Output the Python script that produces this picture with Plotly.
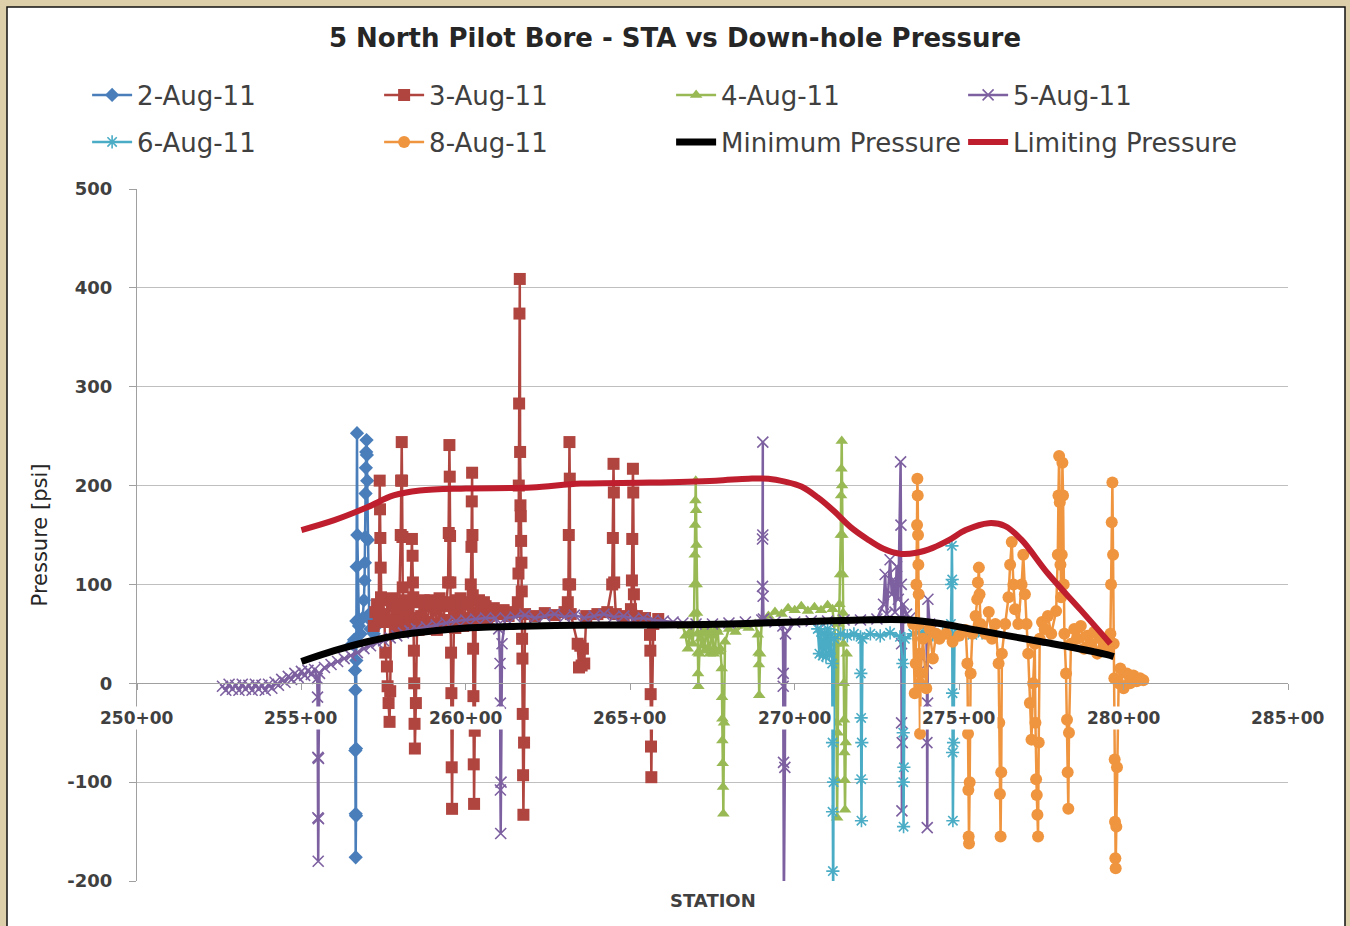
import plotly.graph_objects as go

# ---------------- axis ticks ----------------
x_tick_vals = [250, 255, 260, 265, 270, 275, 280, 285]
x_tick_text = ["250+00", "255+00", "260+00", "265+00", "270+00", "275+00", "280+00", "285+00"]
y_tick_vals = [-200, -100, 0, 100, 200, 300, 400, 500]
y_tick_text = ["-200", "-100", "0", "100", "200", "300", "400", "500"]

# ---------------- series: (station, pressure psi) ----------------
aug2 = [(256.55, 40), (256.60, 44), (256.63, 13), (256.64, -7), (256.64, -68), (256.65, -132),
        (256.65, -176), (256.66, -134), (256.66, -66), (256.67, 23), (256.67, 63), (256.68, 118),
        (256.69, 253), (256.70, 150), (256.75, 58), (256.80, 50), (256.86, 66), (256.90, 84),
        (256.92, 104), (256.93, 122), (256.94, 148), (256.95, 192), (256.96, 218), (256.97, 234),
        (256.98, 246), (256.99, 231), (257.00, 205), (257.02, 145), (257.06, 70), (257.10, 55),
        (257.15, 62), (257.20, 50), (257.25, 57)]

aug3 = [(257.20, 58), (257.25, 72), (257.30, 80), (257.35, 66), (257.38, 205), (257.39, 176),
        (257.40, 147), (257.41, 117), (257.42, 87), (257.44, 62), (257.48, 84), (257.52, 70),
        (257.55, 31), (257.60, 17), (257.62, -3), (257.65, -20), (257.68, -39), (257.70, -8),
        (257.72, 62), (257.75, 78), (257.78, 86), (257.81, 64), (257.84, 55), (257.87, 80),
        (257.90, 76), (257.93, 52), (257.96, 60), (258.02, 150),
        (258.03, 205), (258.05, 244), (258.06, 205), (258.07, 148), (258.08, 97), (258.12, 72),
        (258.15, 84), (258.18, 58), (258.21, 74), (258.24, 80), (258.27, 55), (258.30, 64),
        (258.36, 146), (258.38, 129), (258.39, 102),
        (258.40, 87), (258.41, 60), (258.42, 33), (258.43, 0), (258.44, -41), (258.45, -66),
        (258.48, -20), (258.52, 66), (258.56, 54), (258.60, 82), (258.64, 68), (258.68, 57),
        (258.72, 84), (258.76, 78), (258.80, 55), (258.84, 62), (258.88, 80),
        (258.92, 84), (258.96, 60), (259.00, 58), (259.04, 82), (259.08, 75), (259.12, 54),
        (259.16, 60), (259.20, 86), (259.24, 82), (259.28, 58), (259.32, 64), (259.36, 80),
        (259.40, 78), (259.46, 102), (259.48, 152), (259.50, 241), (259.51, 209), (259.52, 149),
        (259.53, 102), (259.54, 82), (259.55, 31), (259.56, -10), (259.57, -85), (259.58, -127),
        (259.60, -40), (259.64, 70), (259.68, 56), (259.72, 84), (259.76, 70), (259.80, 62),
        (259.84, 86), (259.88, 80), (259.92, 58), (259.96, 64), (260.00, 80),
        (260.04, 82), (260.10, 66), (260.15, 100), (260.17, 138), (260.18, 184), (260.19, 213),
        (260.20, 150), (260.21, 89), (260.22, 35), (260.23, -13), (260.24, -82), (260.25, -122),
        (260.27, -48), (260.30, 72), (260.35, 60), (260.40, 84), (260.45, 74), (260.50, 66),
        (260.55, 82), (260.60, 78), (260.65, 62), (260.70, 68),
        (260.85, 76), (261.00, 70), (261.15, 74), (261.30, 68), (261.45, 72), (261.58, 82),
        (261.60, 111), (261.61, 200), (261.62, 283), (261.63, 374), (261.64, 409), (261.65, 234),
        (261.66, 180), (261.67, 169), (261.68, 144), (261.69, 122), (261.70, 93), (261.71, 45),
        (261.72, 25), (261.73, -31), (261.74, -93), (261.75, -133), (261.77, -60), (261.80, 70),
        (262.10, 68), (262.40, 71), (262.70, 69), (263.00, 72), (263.10, 82), (263.12, 100),
        (263.13, 150), (263.15, 244), (263.16, 207), (263.17, 100), (263.19, 70), (263.40, 40),
        (263.44, 16), (263.48, 38), (263.52, 18), (263.56, 35), (263.60, 20), (263.66, 68),
        (264.00, 70), (264.30, 72), (264.45, 100), (264.47, 147), (264.49, 222), (264.50, 193),
        (264.51, 102), (264.56, 70), (264.80, 68), (265.02, 75), (265.05, 104), (265.06, 146),
        (265.08, 217), (265.09, 193), (265.11, 90), (265.20, 68), (265.45, 66), (265.60, 49),
        (265.61, 33), (265.62, -11), (265.63, -64), (265.64, -95), (265.66, -30), (265.70, 60),
        (265.85, 65)]

aug4 = [(266.60, 58), (266.68, 48), (266.75, 35), (266.82, 52), (266.90, 40), (266.94, 70),
        (266.95, 100), (266.96, 130), (266.97, 160), (266.98, 185), (266.99, 205), (267.00, 175),
        (267.01, 140), (267.02, 100), (267.03, 71), (267.04, 50), (267.05, 31), (267.06, 10),
        (267.07, -3), (267.10, 30), (267.14, 45), (267.18, 52), (267.22, 38), (267.26, 33),
        (267.30, 55), (267.34, 50), (267.38, 36), (267.42, 30), (267.46, 52),
        (267.50, 48), (267.54, 30), (267.58, 34), (267.62, 55), (267.66, 52), (267.70, 32),
        (267.74, 35), (267.78, 15), (267.79, -14),
        (267.80, -36), (267.80, -58), (267.81, -81), (267.82, -105), (267.83, -132), (267.85, -40),
        (267.88, 42), (268.00, 55), (268.20, 52), (268.40, 58), (268.60, 56), (268.80, 60),
        (268.88, 49), (268.90, 31), (268.91, 19), (268.92, -12), (268.95, 30), (269.00, 64),
        (269.20, 68), (269.40, 72), (269.60, 70), (269.80, 76), (270.00, 74), (270.20, 78),
        (270.40, 73), (270.60, 77), (270.80, 74), (271.00, 79), (271.15, 75), (271.25, 40),
        (271.27, -40), (271.28, -98), (271.29, -136), (271.31, -50), (271.33, 60), (271.36, 80),
        (271.38, 110), (271.40, 150), (271.41, 190), (271.42, 217), (271.43, 245), (271.44, 200),
        (271.45, 150), (271.46, 110), (271.47, 71), (271.48, 40), (271.49, 0), (271.50, -37),
        (271.51, -70), (271.52, -98), (271.53, -128), (271.55, -60), (271.58, 30)]

aug5 = [(252.60, -3), (252.70, -7), (252.80, -1), (252.90, -6), (253.00, -2), (253.10, -7),
        (253.20, -1), (253.30, -6), (253.40, -2), (253.50, -7), (253.60, -1), (253.70, -6),
        (253.80, -2), (253.90, -7), (254.00, -1), (254.10, -5), (254.20, 1), (254.30, -2),
        (254.40, 4), (254.50, 1), (254.60, 7), (254.70, 4), (254.80, 10), (254.90, 6),
        (255.00, 12), (255.10, 8), (255.20, 13), (255.30, 9), (255.40, 14), (255.48, 5),
        (255.49, -14), (255.50, -75),
        (255.50, -136), (255.51, -180), (255.52, -137), (255.52, -76), (255.55, 10), (255.70, 16),
        (255.90, 19), (256.10, 22), (256.30, 25), (256.50, 28), (256.70, 31), (256.90, 35),
        (257.10, 38), (257.30, 41), (257.50, 43), (257.70, 46), (257.90, 48), (258.10, 51),
        (258.30, 53), (258.50, 55), (258.80, 57), (259.10, 59), (259.40, 61), (259.70, 63),
        (260.00, 64), (260.30, 65), (260.60, 66), (260.90, 66), (261.00, 55), (261.04, 20),
        (261.05, -20), (261.05, -108), (261.06, -152), (261.07, -100), (261.10, 40), (261.20, 66),
        (261.50, 67), (261.80, 69), (262.10, 66), (262.40, 68), (262.70, 70), (263.00, 67),
        (263.30, 69), (263.60, 66), (263.90, 68), (264.20, 70), (264.50, 67), (264.80, 68),
        (265.10, 65), (265.40, 66), (265.70, 64), (266.00, 63), (266.30, 62), (266.60, 61),
        (267.00, 60), (267.50, 60), (268.00, 61), (268.50, 62), (269.00, 64), (269.02, 98),
        (269.02, 146), (269.03, 244), (269.03, 150), (269.04, 88), (269.05, 65), (269.40, 62),
        (269.64, 58), (269.65, 10), (269.65, -3), (269.66, -80), (269.67, -230), (269.70, -85),
        (269.72, 50), (270.00, 62), (270.50, 63), (271.00, 63), (271.50, 64), (272.00, 64),
        (272.50, 65), (272.70, 80), (272.75, 110), (272.80, 70), (272.90, 125), (272.95, 90),
        (273.00, 105), (273.05, 72), (273.10, 118), (273.15, 85), (273.22, 224), (273.23, 160),
        (273.24, 100), (273.25, 40), (273.25, -40), (273.26, -129), (273.27, -60), (273.30, 80),
        (273.40, 70), (273.50, 66), (274.00, 55), (274.02, 20), (274.02, -60), (274.03, -146),
        (274.04, -20), (274.05, 85), (274.10, 60), (274.20, 55)]

aug6 = [(270.70, 55), (270.75, 30), (270.80, 52), (270.85, 28), (270.90, 50), (270.95, 27),
        (271.00, 55), (271.05, 30), (271.10, 50), (271.14, 20), (271.15, -60), (271.15, -130),
        (271.16, -190), (271.17, -230), (271.18, -100), (271.20, 45), (271.40, 50), (271.60, 48),
        (271.80, 50), (272.00, 47), (272.01, 10), (272.02, -35), (272.02, -97), (272.03, -139),
        (272.04, -60), (272.06, 45), (272.30, 50), (272.60, 48), (272.90, 51), (273.20, 47),
        (273.29, 20), (273.30, -50), (273.30, -100), (273.31, -145), (273.32, -85), (273.35, 45),
        (273.60, 50), (273.90, 52), (274.20, 49), (274.50, 50), (274.75, 60), (274.77, 100),
        (274.78, 139), (274.79, 105), (274.79, 50), (274.80, -10), (274.80, -70), (274.81, -139),
        (274.83, -60), (274.86, 48), (275.10, 50), (275.40, 49), (275.70, 51), (276.00, 50)]

aug8 = [(273.60, 60), (273.65, -10), (273.68, 20), (273.70, 100), (273.72, 160), (273.73, 207),
        (273.74, 190), (273.75, 150), (273.76, 120), (273.77, 90), (273.78, 60), (273.79, 30),
        (273.80, 0), (273.81, -51), (273.83, 10), (273.90, 45), (274.00, -5), (274.10, 55),
        (274.20, 25), (274.30, 50), (274.40, 45), (274.60, 50), (274.80, 42), (275.00, 48),
        (275.20, 54), (275.25, 20), (275.27, -51), (275.28, -108), (275.29, -155), (275.30, -162),
        (275.32, -100), (275.35, 10), (275.40, 50), (275.50, 68), (275.55, 85), (275.57, 102),
        (275.60, 117), (275.62, 90), (275.65, 60), (275.80, 50), (275.90, 72), (276.00, 45),
        (276.10, 60), (276.20, 20), (276.22, -40), (276.24, -112), (276.26, -155), (276.28, -90),
        (276.30, 30), (276.40, 60), (276.50, 87), (276.55, 120), (276.60, 143), (276.65, 100),
        (276.70, 75), (276.80, 60), (276.90, 100), (276.95, 130), (277.00, 90), (277.05, 60),
        (277.10, 30), (277.15, -20), (277.20, -57), (277.25, 0), (277.30, 40), (277.32, -40),
        (277.34, -97), (277.36, -113), (277.38, -133), (277.40, -155), (277.42, -60), (277.45, 45),
        (277.52, 62), (277.60, 55), (277.70, 68), (277.80, 50), (277.95, 73), (278.00, 130),
        (278.02, 190), (278.04, 230),
        (278.06, 183), (278.08, 120), (278.10, 87), (278.12, 130), (278.14, 223), (278.16, 190),
        (278.18, 100), (278.20, 50), (278.25, 10), (278.28, -37), (278.30, -90), (278.32, -127),
        (278.34, -50), (278.40, 40), (278.50, 55), (278.60, 45), (278.70, 58), (278.80, 35),
        (278.90, 48), (279.00, 40), (279.10, 52), (279.20, 30), (279.30, 45),
        (279.40, 38), (279.55, 33), (279.60, 50), (279.62, 100), (279.64, 163), (279.66, 203),
        (279.68, 130), (279.70, 40), (279.72, 5), (279.73, -77), (279.74, -140), (279.75, -177),
        (279.76, -187), (279.78, -145), (279.80, -85), (279.85, 0), (279.90, 15), (280.00, -5),
        (280.10, 10), (280.20, 0), (280.30, 8), (280.40, 2), (280.50, 5), (280.60, 3)]

min_sta = [255.0, 256.0, 257.0, 258.0, 259.0, 260.0, 262.0, 264.0, 266.0, 268.0, 270.0,
           272.0, 273.5, 274.5, 275.5, 276.5, 277.5, 278.5, 279.5, 279.7]
min_psi = [22, 33, 42, 49, 53, 56, 58, 59, 59, 60, 62, 64, 64, 60, 54, 48, 42, 36, 29, 27]

lim_sta = [255.0, 256.0, 257.0, 257.8, 258.6, 260.0, 262.0, 263.5, 265.6, 267.6, 268.6, 269.2,
           269.7, 270.2, 270.7, 271.2, 271.7, 272.2, 272.7, 273.2, 273.7, 274.2, 274.7, 275.2,
           275.9, 276.4, 276.9, 277.7, 278.7, 279.6]
lim_psi = [155, 165, 178, 190, 195, 197, 198, 202, 203, 205, 207, 207, 204, 199, 188, 174, 158,
           146, 136, 131, 132, 137, 145, 155, 162, 159, 145, 111, 74, 40]

series = [
    ("2-Aug-11", aug2, "#4A7EBB", "diamond", 11, "legend"),
    ("3-Aug-11", aug3, "#B04540", "square", 12, "legend"),
    ("4-Aug-11", aug4, "#98B954", "triangle-up", 11, "legend"),
    ("5-Aug-11", aug5, "#7D60A0", "x-thin-open", 11, "legend"),
    ("6-Aug-11", aug6, "#4AACC5", "asterisk-open", 11, "legend2"),
    ("8-Aug-11", aug8, "#F0953F", "circle", 12, "legend2"),
]

fig = go.Figure()
for name, pts, col, sym, size, lg in series:
    xs = [p[0] for p in pts]
    ys = [p[1] for p in pts]
    thin = sym.endswith("-open")
    fig.add_trace(go.Scatter(
        x=xs, y=ys, name=name, mode="lines+markers", legend=lg,
        line=dict(color=col, width=2.5),
        marker=dict(symbol=sym, size=size, color=col,
                    line=dict(color=col, width=1.6 if thin else 0)),
    ))

fig.add_trace(go.Scatter(x=min_sta, y=min_psi, name="Minimum Pressure", mode="lines",
                         legend="legend2", line=dict(color="#000000", width=7, shape="spline")))
fig.add_trace(go.Scatter(x=lim_sta, y=lim_psi, name="Limiting Pressure", mode="lines",
                         legend="legend2", line=dict(color="#BE1E2D", width=6, shape="spline")))

tick_font = dict(family="DejaVu Sans", size=17, color="#404040", weight="bold")
ytick_font = dict(family="DejaVu Sans", size=18, color="#404040", weight="bold")
legend_font = dict(family="DejaVu Sans", size=26, color="#404040")

annotations = []
for v, t in zip(x_tick_vals, x_tick_text):
    annotations.append(dict(x=v, y=0, xref="x", yref="y", text=t, showarrow=False,
                            yshift=-35, bgcolor="white", borderpad=1, font=tick_font))
annotations.append(dict(x=0.5, y=-0.0275, xref="paper", yref="paper", text="STATION",
                        showarrow=False, yanchor="middle",
                        font=dict(family="DejaVu Sans", size=18, color="#404040", weight="bold")))

leg_x = -0.039 - 5 / 1151

fig.update_layout(
    width=1350, height=926,
    margin=dict(l=137, r=62, t=189, b=45),
    paper_bgcolor="#DCCFA9",
    plot_bgcolor="white",
    title=dict(text="5 North Pilot Bore - STA vs Down-hole Pressure",
               x=0.5, xref="container", xanchor="center",
               y=1 - 38 / 926, yref="container", yanchor="middle",
               font=dict(family="DejaVu Sans", size=26, color="#262626", weight="bold")),
    xaxis=dict(range=[250, 285], tickvals=x_tick_vals, ticktext=x_tick_text,
               showticklabels=False, ticks="outside", ticklen=6, tickcolor="#A0A0A0",
               showgrid=False, zeroline=False, showline=True, linecolor="#A0A0A0",
               linewidth=1, anchor="free", position=200 / 700),
    yaxis=dict(range=[-200, 500], tickvals=y_tick_vals, ticktext=y_tick_text,
               ticks="outside", ticklen=7, tickcolor="#A0A0A0", tickfont=ytick_font,
               ticklabelstandoff=13,
               showgrid=True, gridcolor="#BFBFBF", gridwidth=1, zeroline=False,
               showline=True, linecolor="#A0A0A0", linewidth=1,
               title=dict(text="Pressure [psi]", standoff=14,
                          font=dict(family="DejaVu Sans", size=21, color="#262626"))),
    legend=dict(orientation="h", x=leg_x, y=(881 - 95) / 692, xanchor="left", yanchor="middle",
                entrywidth=237, entrywidthmode="pixels", itemwidth=40, font=legend_font,
                bgcolor="rgba(0,0,0,0)"),
    legend2=dict(orientation="h", x=leg_x, y=(881 - 142) / 692, xanchor="left", yanchor="middle",
                 entrywidth=237, entrywidthmode="pixels", itemwidth=40, font=legend_font,
                 bgcolor="rgba(0,0,0,0)"),
    annotations=annotations,
    shapes=[dict(type="rect", xref="paper", yref="paper", layer="below",
                 x0=(7 - 137) / 1151, x1=(1345 - 137) / 1151,
                 y0=(881 - 940) / 692, y1=(881 - 7) / 692,
                 fillcolor="white", line=dict(color="#111111", width=1.5))],
    showlegend=True,
)

fig.write_html("out.html", config={"displayModeBar": False},
               post_script="document.body.style.margin='0';document.body.style.overflow='hidden';")
